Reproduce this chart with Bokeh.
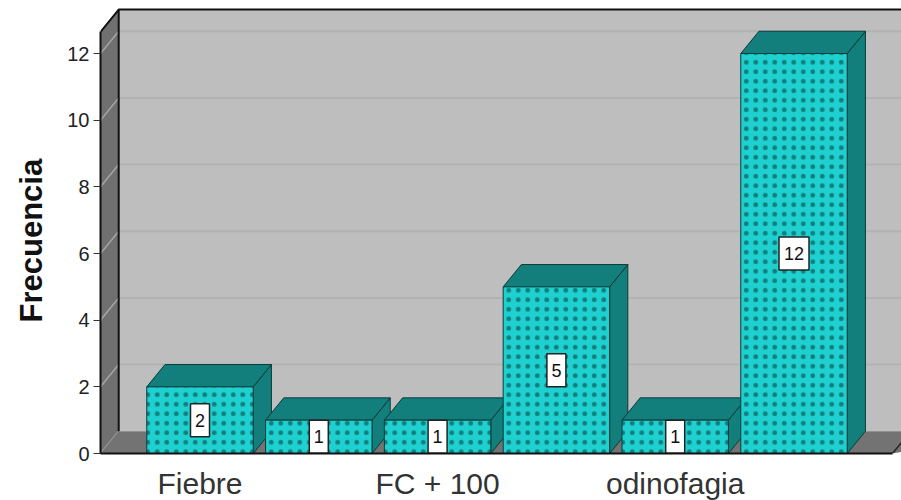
from bokeh.plotting import figure
from bokeh.embed import file_html
from bokeh.resources import INLINE
from bokeh.models import Range1d, FixedTicker, Title
from bokeh.core.properties import value

categories = ["Fiebre", "", "FC + 100", "", "odinofagia", ""]
frequencies = [2, 1, 1, 5, 1, 12]
y_ticks = [0, 2, 4, 6, 8, 10, 12]

W, H = 901, 500
LEFT, BOTTOM = 100, 47
UX = 118.8
UY = 33.33
X0 = (199.5 - 100) / UX          # units between wall front and first category
x_start = -X0
x_end = x_start + (W - LEFT) / UX
y_end = (H - BOTTOM) / UY
dx = 18.2 / UX                   # 3-D depth
dy = 22.3 / UY
bar_w = 0.896
y_top = 12.65
floor_end = (892 - 199.5) / UX

FONT = "Liberation Sans"
WALL = "#bebebe"
SIDE_WALL = "#707070"
FLOOR = "#737373"
BAR = "#1ed0d0"
BAR_DARK = "#127f7c"
EDGE = "#0c3a3a"

p = figure(width=W, height=H, output_backend="svg", toolbar_location=None,
           x_range=Range1d(x_start, x_end), y_range=Range1d(0, y_end),
           min_border_left=LEFT, min_border_right=0, min_border_top=0,
           min_border_bottom=BOTTOM, frame_width=W - LEFT, frame_height=H - BOTTOM,
           background_fill_color="white", border_fill_color="white")
p.grid.visible = False
p.outline_line_color = None

# back wall, side wall, floor
p.patch([x_start + dx, x_end + 1, x_end + 1, x_start + dx], [dy, dy, y_top + dy, y_top + dy],
        fill_color=WALL, line_color=None)
p.multi_line([[x_start + dx, x_end + 1] for _ in y_ticks[1:]], [[t + dy, t + dy] for t in y_ticks[1:]],
             line_color="#b2b2b2", line_width=2)
p.patch([x_start, x_start + dx, x_start + dx, x_start], [0, dy, y_top + dy, y_top],
        fill_color=SIDE_WALL, line_color=None)
p.multi_line([[x_start, x_start + dx] for _ in y_ticks], [[t, t + dy] for t in y_ticks],
             line_color="#a6a6a6", line_width=1.5)
p.patch([x_start, x_start + dx, x_end + 1, floor_end], [0, dy, dy, 0],
        fill_color=FLOOR, line_color=None)
p.line([floor_end, floor_end + dx], [0, dy], line_color="#222222", line_width=1.5)
p.line([x_start + dx, x_start + dx], [dy, y_top + dy], line_color="#111111", line_width=2)
p.line([x_start, x_start + dx, x_end + 1], [y_top, y_top + dy, y_top + dy], line_color="#111111", line_width=2)

# bars
xs = list(range(len(frequencies)))
left = [x - bar_w / 2 for x in xs]
right = [x + bar_w / 2 for x in xs]
p.patches([[r, r + dx, r + dx, r] for r in right],
          [[0, dy, v + dy, v] for v in frequencies],
          fill_color=BAR_DARK, line_color=EDGE, line_width=1)
p.patches([[l, l + dx, r + dx, r] for l, r in zip(left, right)],
          [[v, v + dy, v + dy, v] for v in frequencies],
          fill_color=BAR_DARK, line_color=EDGE, line_width=1)
p.quad(left=left, right=right, bottom=0, top=frequencies,
       fill_color=BAR, line_color=EDGE, line_width=1,
       hatch_pattern="dot", hatch_scale=9.5, hatch_weight=0.65, hatch_color=BAR_DARK)

# value boxes
texts = [str(v) for v in frequencies]
p.rect(x=xs, y=[v / 2 for v in frequencies],
       width=[19 if len(t) == 1 else 30 for t in texts], width_units="screen",
       height=33, height_units="screen",
       fill_color="white", line_color="#222222", line_width=1.5)
p.text(x=xs, y=[v / 2 for v in frequencies], text=texts, text_align="center", text_baseline="middle",
       text_font=value(FONT), text_font_size="18px", text_color="#111111")

# axes
ya = p.yaxis[0]
ya.ticker = FixedTicker(ticks=y_ticks)
ya.bounds = (0, y_top)
ya.axis_line_color = "#111111"
ya.axis_line_width = 2
ya.major_tick_in = 0
ya.major_tick_out = 7
ya.major_tick_line_color = "#333333"
ya.minor_tick_line_color = None
ya.major_label_text_font = FONT
ya.major_label_text_font_size = "20px"
ya.major_label_text_color = "#222222"
ya.major_label_standoff = 4

p.add_layout(Title(text="Frecuencia", align="left", offset=131, standoff=27, vertical_align="top", text_font=FONT,
                   text_font_style="bold", text_font_size="31px", text_color="#111111"), "left")

xa = p.xaxis[0]
xa.ticker = FixedTicker(ticks=xs)
xa.major_label_overrides = {i: c for i, c in zip(xs, categories)}
xa.bounds = (x_start, floor_end)
xa.axis_line_color = "#111111"
xa.axis_line_width = 2
xa.major_tick_line_color = None
xa.minor_tick_line_color = None
xa.major_label_text_font = FONT
xa.major_label_text_font_size = "30px"
xa.major_label_text_color = "#333333"
xa.major_label_standoff = 7

open("out.html", "w").write(file_html(p, INLINE))
